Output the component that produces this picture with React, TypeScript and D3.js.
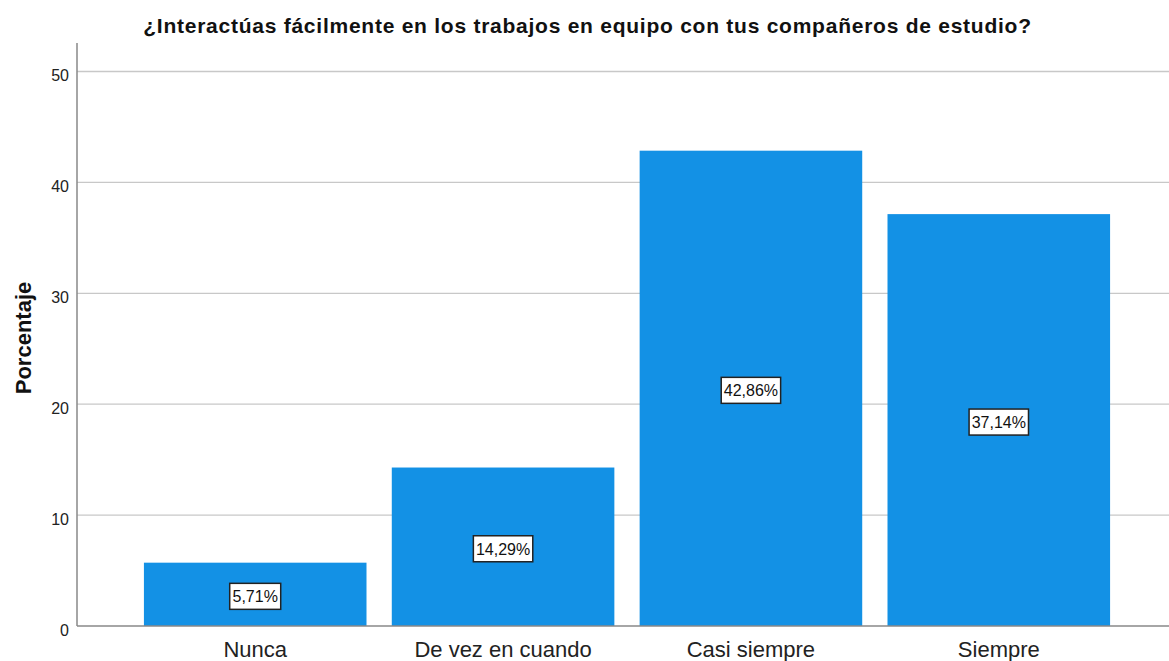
import React from "react";
import * as d3 from "d3";

const categories = ["Nunca", "De vez en cuando", "Casi siempre", "Siempre"];
const percentages = [5.71, 14.29, 42.86, 37.14];
const yTicks = [0, 10, 20, 30, 40, 50];
const titleText = "¿Interactúas fácilmente en los trabajos en equipo con tus compañeros de estudio?";
const yLabel = "Porcentaje";

const W = 1169;
const H = 661;
const FONT = "Arial, 'Liberation Sans', sans-serif";

export default function App() {
  const x = d3
    .scaleBand<string>()
    .domain(categories)
    .range([77, 1177])
    .paddingInner(0.102)
    .paddingOuter(0.27);
  const y = d3.scaleLinear().domain([0, 50]).range([626, 71.5]);
  const fmt = (v: number) => v.toFixed(2).replace(".", ",") + "%";

  return (
    <svg
      width={W}
      height={H}
      style={{ position: "absolute", left: 0, top: 0, background: "#fff" }}
      fontFamily={FONT}
    >
      <rect x={0} y={0} width={W} height={H} fill="#fff" />
      <text
        x={587.5}
        y={33}
        textAnchor="middle"
        fontSize={21}
        fontWeight="bold"
        letterSpacing={0.75}
        fill="#111"
      >
        {titleText}
      </text>
      {yTicks.map((t) => (
        <g key={t}>
          {t > 0 && (
            <line x1={77} x2={W} y1={y(t)} y2={y(t)} stroke="#c8c8c8" strokeWidth={1.3} />
          )}
          <text x={69} y={y(t) + 9.5} textAnchor="end" fontSize={16} fill="#222">
            {t}
          </text>
        </g>
      ))}
      {categories.map((c, i) => (
        <rect
          key={c}
          x={x(c)}
          y={y(percentages[i])}
          width={x.bandwidth()}
          height={y(0) - y(percentages[i])}
          fill="#1391E5"
        />
      ))}
      <line x1={77} x2={77} y1={43} y2={626} stroke="#888" strokeWidth={1.5} />
      <line x1={77} x2={W} y1={626} y2={626} stroke="#888" strokeWidth={1.5} />
      {categories.map((c, i) => {
        const cx = (x(c) as number) + x.bandwidth() / 2;
        const cy = (y(percentages[i]) + y(0)) / 2 + 2;
        const label = fmt(percentages[i]);
        const w = label.length * 8.4 + 9;
        return (
          <g key={"l" + c}>
            <rect
              x={cx - w / 2}
              y={cy - 13}
              width={w}
              height={26}
              fill="#fff"
              stroke="#222"
              strokeWidth={1.5}
            />
            <text x={cx} y={cy + 6} textAnchor="middle" fontSize={16} fill="#111">
              {label}
            </text>
          </g>
        );
      })}
      {categories.map((c) => (
        <text
          key={"x" + c}
          x={(x(c) as number) + x.bandwidth() / 2}
          y={657}
          textAnchor="middle"
          fontSize={22}
          fill="#222"
        >
          {c}
        </text>
      ))}
      <text
        transform={`translate(31,338) rotate(-90)`}
        textAnchor="middle"
        fontSize={22}
        fontWeight="bold"
        fill="#111"
      >
        {yLabel}
      </text>
    </svg>
  );
}
